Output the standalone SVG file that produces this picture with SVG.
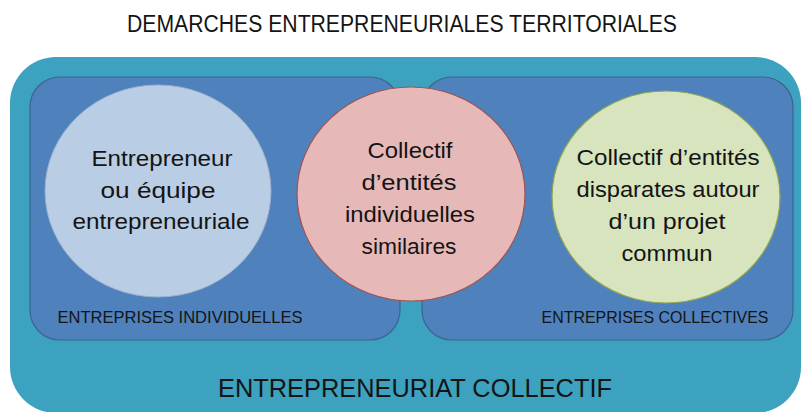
<svg xmlns="http://www.w3.org/2000/svg" width="803" height="412" viewBox="0 0 803 412">
<style>
text{font-family:"Liberation Sans","Open Sans",sans-serif;fill:#141414;text-anchor:middle}
.zone{fill:#4F81BD;stroke:#3B6491;stroke-width:1.2}
.c{font-size:22px}
.lbl{font-size:17px}
</style>
<rect width="803" height="412" fill="#ffffff"/>
<text x="402" y="32" font-size="23" textLength="550" lengthAdjust="spacingAndGlyphs">DEMARCHES ENTREPRENEURIALES TERRITORIALES</text>
<g id="outer">
<rect x="10" y="57" width="791" height="356" rx="46" fill="#3DA2BF"/>
<text x="415" y="397" font-size="26" textLength="394" lengthAdjust="spacingAndGlyphs">ENTREPRENEURIAT COLLECTIF</text>
</g>
<g id="zone-individuelles">
<rect class="zone" x="30" y="77" width="370" height="263" rx="30"/>
<text class="lbl" x="180" y="323" textLength="245" lengthAdjust="spacingAndGlyphs">ENTREPRISES INDIVIDUELLES</text>
</g>
<g id="zone-collectives">
<rect class="zone" x="422" y="77" width="371" height="263" rx="30"/>
<text class="lbl" x="655" y="323" textLength="227" lengthAdjust="spacingAndGlyphs">ENTREPRISES COLLECTIVES</text>
</g>
<g id="entrepreneur">
<ellipse cx="158" cy="191" rx="113" ry="106" fill="#B9CDE5" stroke="#9BB0CC" stroke-width="1"/>
<text class="c" x="162" y="166" textLength="141" lengthAdjust="spacingAndGlyphs">Entrepreneur</text>
<text class="c" x="158" y="198" textLength="115" lengthAdjust="spacingAndGlyphs">ou équipe</text>
<text class="c" x="161" y="229" textLength="177" lengthAdjust="spacingAndGlyphs">entrepreneuriale</text>
</g>
<g id="collectif-similaires">
<ellipse cx="411" cy="194" rx="114" ry="107" fill="#E6B9B8" stroke="#A4504D" stroke-width="1.2"/>
<text class="c" x="410" y="158" textLength="85" lengthAdjust="spacingAndGlyphs">Collectif</text>
<text class="c" x="409" y="190" textLength="95" lengthAdjust="spacingAndGlyphs">d’entités</text>
<text class="c" x="410" y="222" textLength="130" lengthAdjust="spacingAndGlyphs">individuelles</text>
<text class="c" x="409" y="254" textLength="95" lengthAdjust="spacingAndGlyphs">similaires</text>
</g>
<g id="collectif-disparates">
<ellipse cx="666" cy="197" rx="114" ry="106" fill="#D7E4BD" stroke="#8FA54F" stroke-width="1.2"/>
<text class="c" x="668" y="165" textLength="183" lengthAdjust="spacingAndGlyphs">Collectif d’entités</text>
<text class="c" x="668" y="197" textLength="183" lengthAdjust="spacingAndGlyphs">disparates autour</text>
<text class="c" x="667" y="229" textLength="117" lengthAdjust="spacingAndGlyphs">d’un projet</text>
<text class="c" x="667" y="261" textLength="91" lengthAdjust="spacingAndGlyphs">commun</text>
</g>
<g id="connectors"></g>
</svg>
